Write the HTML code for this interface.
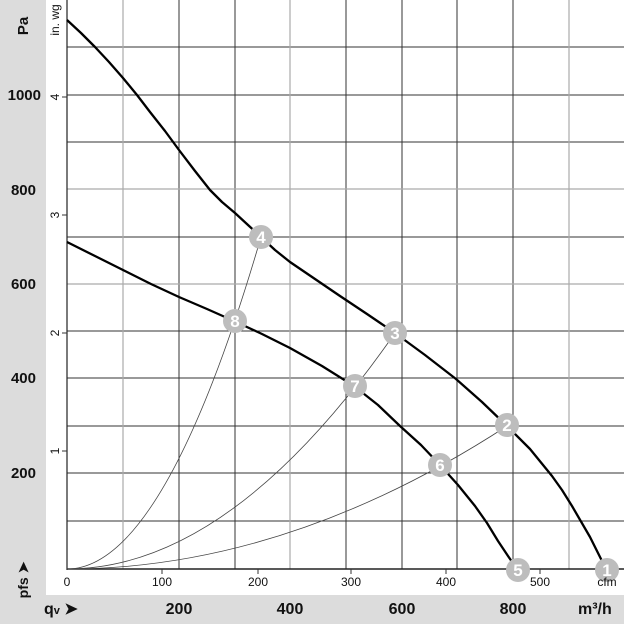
<!DOCTYPE html><html><head><style>
body{margin:0;width:624px;height:624px;overflow:hidden;background:#fff;font-family:"Liberation Sans",Arial,sans-serif}
</style></head><body>
<svg width="624" height="624" xmlns="http://www.w3.org/2000/svg" font-family="Liberation Sans, Arial, sans-serif">
<rect x="0" y="0" width="624" height="624" fill="#fff"/>
<rect x="0" y="0" width="46" height="624" fill="#dcdcdc"/>
<rect x="0" y="595" width="624" height="29" fill="#dcdcdc"/>
<g stroke="#333" stroke-width="1">
<line x1="179" y1="0" x2="179" y2="569"/><line x1="235" y1="0" x2="235" y2="569"/>
<line x1="346" y1="0" x2="346" y2="569"/><line x1="402" y1="0" x2="402" y2="569"/>
<line x1="457" y1="0" x2="457" y2="569"/><line x1="513" y1="0" x2="513" y2="569"/>
<line x1="67" y1="47" x2="624" y2="47"/><line x1="67" y1="95" x2="624" y2="95"/>
<line x1="67" y1="142" x2="624" y2="142"/><line x1="67" y1="237" x2="624" y2="237"/>
<line x1="67" y1="331" x2="624" y2="331"/><line x1="67" y1="378" x2="624" y2="378"/>
<line x1="67" y1="426" x2="624" y2="426"/><line x1="67" y1="473" x2="624" y2="473"/>
<line x1="67" y1="521" x2="624" y2="521"/>
</g>
<g stroke="#aaa" stroke-width="1.2">
<line x1="123" y1="0" x2="123" y2="569"/><line x1="290" y1="0" x2="290" y2="569"/><line x1="569" y1="0" x2="569" y2="569"/>
<line x1="67" y1="189" x2="624" y2="189"/><line x1="67" y1="284" x2="624" y2="284"/>
</g>
<line x1="67" y1="0" x2="67" y2="570" stroke="#222" stroke-width="1.2"/>
<line x1="67" y1="569" x2="624" y2="569" stroke="#222" stroke-width="1.5"/>
<g stroke="#333" stroke-width="1">
<line x1="62" y1="97" x2="67" y2="97"/><line x1="62" y1="215" x2="67" y2="215"/><line x1="62" y1="333" x2="67" y2="333"/><line x1="62" y1="451" x2="67" y2="451"/>
<line x1="162" y1="569" x2="162" y2="574"/><line x1="258" y1="569" x2="258" y2="574"/><line x1="351" y1="569" x2="351" y2="574"/><line x1="446" y1="569" x2="446" y2="574"/><line x1="540" y1="569" x2="540" y2="574"/>
</g>
<g fill="none" stroke="#444" stroke-width="0.8">
<path d="M67,569 Q164,569 261,237"/>
<path d="M67,569 Q231,569 395,333"/>
<path d="M67,569 Q287,569 507,426"/>
</g>
<g fill="none" stroke="#000" stroke-width="2.3" stroke-linejoin="round">
<polyline points="67,20 81,33 95,47 109,62 123,78 137,95 150,112 165,131 179,150 195,171 210,190 222,202 235,213 248,225 261,237 275,250 290,262 315,279 340,296 367,314 395,333 425,355 456,379 482,402 507,426 530,449 552,476 562,490 572,506 590,537 606,569"/>
<polyline points="67,242 95,256 123,270 151,284 179,297 207,309 234,321 262,334 290,348 322,366 354,386 378,405 400,426 421,445 440,465 458,485 475,506 487,523 498,541 508,556 517,569"/>
</g>
<g fill="#bdbdbd"><circle cx="607" cy="570" r="12"/><circle cx="507" cy="425" r="12"/><circle cx="395" cy="333" r="12"/><circle cx="261" cy="237" r="12"/><circle cx="518" cy="570" r="12"/><circle cx="440" cy="465" r="12"/><circle cx="355" cy="386" r="12"/><circle cx="235" cy="321" r="12"/></g>
<g fill="#fff" font-weight="bold" font-size="17" text-anchor="middle">
<text x="607" y="576">1</text><text x="507" y="431">2</text><text x="395" y="339">3</text><text x="261" y="243">4</text><text x="518" y="576">5</text><text x="440" y="471">6</text><text x="355" y="392">7</text><text x="235" y="327">8</text>
</g>
<g font-weight="bold" font-size="15" fill="#111" text-anchor="end">
<text x="41" y="100">1000</text><text x="36" y="195">800</text><text x="36" y="289">600</text><text x="36" y="383">400</text><text x="36" y="478">200</text>
</g>
<text transform="translate(28,26) rotate(-90)" font-weight="bold" font-size="15" fill="#111" text-anchor="middle">Pa</text>
<text transform="translate(28,580) rotate(-90)" font-weight="bold" font-size="14" fill="#111" text-anchor="middle">pfs ➤</text>
<text transform="translate(59,20) rotate(-90)" font-size="12" fill="#111" text-anchor="middle">in. wg</text>
<g font-size="12" fill="#111" text-anchor="middle">
<text transform="translate(59,97) rotate(-90)">4</text>
<text transform="translate(59,215) rotate(-90)">3</text>
<text transform="translate(59,333) rotate(-90)">2</text>
<text transform="translate(59,451) rotate(-90)">1</text>
<text x="67" y="586">0</text><text x="162" y="586">100</text><text x="258" y="586">200</text><text x="351" y="586">300</text><text x="446" y="586">400</text><text x="540" y="586">500</text><text x="607" y="586">cfm</text>
</g>
<g font-weight="bold" font-size="16" fill="#111">
<text x="44" y="614">q<tspan font-size="11">v</tspan> ➤</text>
<text x="179" y="614" text-anchor="middle">200</text><text x="290" y="614" text-anchor="middle">400</text><text x="402" y="614" text-anchor="middle">600</text><text x="513" y="614" text-anchor="middle">800</text>
<text x="578" y="614">m³/h</text>
</g>
</svg>
</body></html>
